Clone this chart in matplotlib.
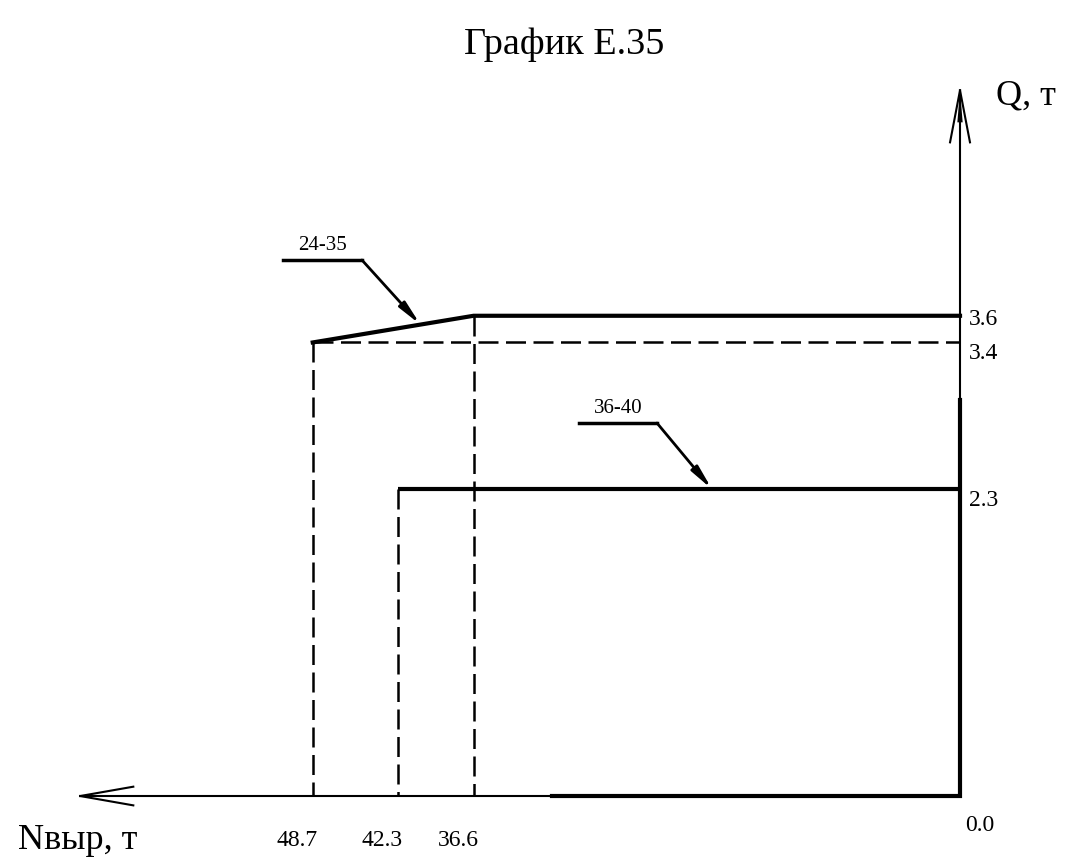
import matplotlib
matplotlib.use("Agg")
import matplotlib.pyplot as plt

plt.rcParams['font.family'] = ['Liberation Serif', 'DejaVu Serif']

# Данные графика (Nвыр, т  /  Q, т)
n_24_35 = [48.7, 36.6, 0.0]
q_24_35 = [3.4, 3.6, 3.6]
n_36_40 = [42.3, 0.0]
q_36_40 = [2.3, 2.3]

x_ticks = [48.7, 42.3, 36.6]
x_tick_labels = ["48.7", "42.3", "36.6"]
y_ticks = [3.6, 3.4, 2.3]
y_tick_labels = ["3.6", "3.4", "2.3"]

fig = plt.figure(figsize=(10.69, 8.63), dpi=100)
ax = fig.add_axes([0, 0, 1, 1])
ax.set_xlim(72.23, -8.20)   # ось N направлена влево
ax.set_ylim(-0.502, 5.967)
ax.axis("off")

# оси со стрелками
ax.plot([0, 66.2], [0, 0], color="black", lw=1.5, solid_capstyle="butt")
ax.plot([66.2, 62.2], [0, 0.07], color="black", lw=1.5)
ax.plot([66.2, 62.2], [0, -0.07], color="black", lw=1.5)
ax.plot([0, 0], [0, 5.29], color="black", lw=1.5, solid_capstyle="butt")
ax.plot([0, 0.75], [5.29, 4.90], color="black", lw=1.5)
ax.plot([0, -0.75], [5.29, 4.90], color="black", lw=1.5)
ax.fill([0, 0.2, -0.2], [5.29, 5.05, 5.05], color="black", lw=0)
# утолщённый участок у начала координат
ax.plot([30.7, 0, 0], [0, 0, 2.97], color="black", lw=3, solid_joinstyle="miter")

# вспомогательные пунктиры
dash = dict(color="black", lw=1.8, linestyle=(0, (8, 3)))
ax.plot([n_24_35[0], 0], [q_24_35[0], q_24_35[0]], **dash)
ax.plot([n_24_35[0], n_24_35[0]], [q_24_35[0], 0], **dash)
ax.plot([n_24_35[1], n_24_35[1]], [q_24_35[1], 0], **dash)
ax.plot([n_36_40[0], n_36_40[0]], [q_36_40[0], 0], **dash)

# основные линии
ax.plot(n_24_35, q_24_35, color="black", lw=3, solid_joinstyle="miter")
ax.plot(n_36_40, q_36_40, color="black", lw=3, solid_capstyle="butt")

# выноски
def leader(label, x0, x1, y, tip_x, tip_y):
    ax.plot([x0, x1], [y, y], color="black", lw=2.5)
    ax.annotate("", xy=(tip_x, tip_y), xytext=(x1, y),
                arrowprops=dict(arrowstyle="-|>,head_length=0.7,head_width=0.12",
                                color="black", lw=2, shrinkA=0, shrinkB=0,
                                mutation_scale=20))
    ax.text((x0 + x1) / 2, y + 0.04, label, ha="center", va="bottom", fontsize=15)

tip1 = 40.6
tip1_q = q_24_35[0] + (q_24_35[1] - q_24_35[0]) * (n_24_35[0] - tip1) / (n_24_35[0] - n_24_35[1])
leader("24-35", 50.94, 45.0, 4.018, tip1, tip1_q)
leader("36-40", 28.67, 22.8, 2.796, 18.66, q_36_40[0])

# подписи делений
for v, t in zip(x_ticks, x_tick_labels):
    ax.annotate(t, (v, 0), xytext=(-11, -32), textcoords="offset points",
                ha="center", va="center", fontsize=17)
ax.annotate("0.0", (0, 0), xytext=(14, -21), textcoords="offset points",
            ha="center", va="center", fontsize=17)
for v, t in zip(y_ticks, y_tick_labels):
    dy = -2.5 if v == 3.6 else -8
    ax.annotate(t, (0, v), xytext=(6.5, dy), textcoords="offset points",
                ha="left", va="center", fontsize=17)

ax.text(-2.71, 5.25, "Q, т", ha="left", va="center", fontsize=26)
ax.text(70.9, -0.33, "Nвыр, т", ha="left", va="center", fontsize=26)
fig.text(564 / 1069, 1 - 45 / 863, "График Е.35", ha="center", va="center", fontsize=27.5)

fig.savefig("out.png", dpi=100, facecolor="white")
